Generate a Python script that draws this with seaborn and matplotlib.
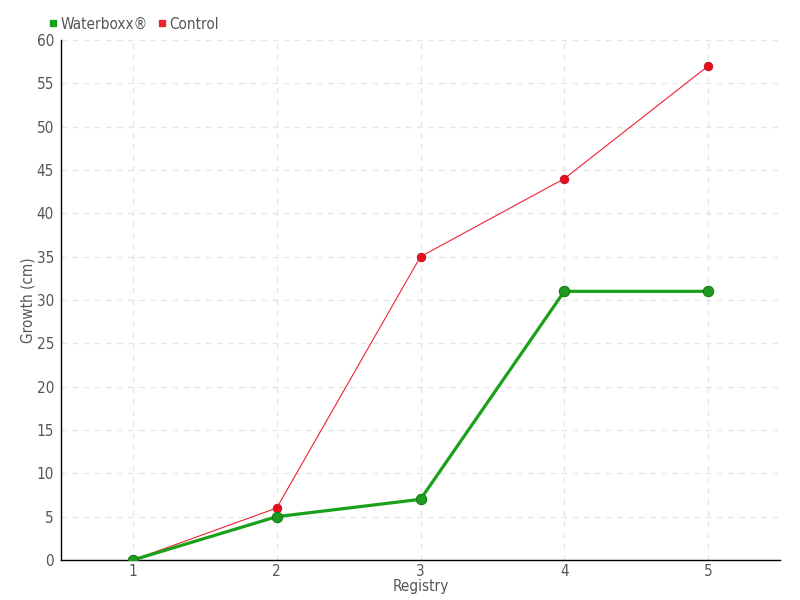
import matplotlib
matplotlib.use("Agg")
import matplotlib.pyplot as plt
import seaborn as sns
import pandas as pd
from matplotlib.lines import Line2D

registry = [1, 2, 3, 4, 5]
waterboxx = [0, 5, 7, 31, 31]
control = [0, 6, 35, 44, 57]
series_names = ["Waterboxx®", "Control"]
yticks = list(range(0, 61, 5))

sns.set_style("white")
plt.rcParams['font.family'] = ['DejaVu Sans']
plt.rcParams['font.stretch'] = 'condensed'

df = pd.DataFrame({
    "Registry": registry * 2,
    "Growth": waterboxx + control,
    "Series": [series_names[0]] * 5 + [series_names[1]] * 5,
})

fig = plt.figure(figsize=(8, 6), dpi=100)
ax = fig.add_axes([61/800, 40/600, (780-61)/800, (560-40)/600])

green = "#1aa01a"
red = "#ee2233"

sns.lineplot(data=df[df.Series == series_names[1]], x="Registry", y="Growth", ax=ax,
             color=red, linewidth=0.8, marker="o", markersize=6,
             markeredgecolor="#cc1122", markerfacecolor="#e8101f", zorder=3)
sns.lineplot(data=df[df.Series == series_names[0]], x="Registry", y="Growth", ax=ax,
             color=green, linewidth=2.3, marker="o", markersize=7.5,
             markeredgecolor="#137a13", markerfacecolor="#1e9a1e", zorder=4)

ax.set_xlim(0.5, 5.5)
ax.set_ylim(0, 60)
ax.set_xticks(registry)
ax.set_yticks(yticks)
ax.grid(True, color="#e6e6e6", linestyle=(0, (4, 4)), linewidth=1)
for s in ["top", "right"]:
    ax.spines[s].set_visible(False)
for s in ["left", "bottom"]:
    ax.spines[s].set_color("black")
    ax.spines[s].set_linewidth(1)
ax.tick_params(axis="x", direction="out", length=3, labelsize=11, width=1, pad=0)
ax.tick_params(axis="y", direction="inout", length=6, labelsize=11, width=1, pad=2)
for t in ax.get_xticklabels() + ax.get_yticklabels():
    t.set_color("#555555")
ax.tick_params(axis="both", color="black")
ax.set_xlabel("Registry", color="#555555", fontsize=11, labelpad=0)
ax.set_ylabel("Growth (cm)", color="#555555", fontsize=11, labelpad=1)

handles = [Line2D([], [], marker="s", linestyle="", color=green, markersize=5),
           Line2D([], [], marker="s", linestyle="", color=red, markersize=5)]
fig.legend(handles, series_names, loc="upper left", bbox_to_anchor=(32/800, 1 - 3/600),
           ncol=2, frameon=False, fontsize=11, handletextpad=0.0, columnspacing=0.4,
           labelcolor="#555555", handlelength=1)

fig.savefig("out.png", dpi=100)
